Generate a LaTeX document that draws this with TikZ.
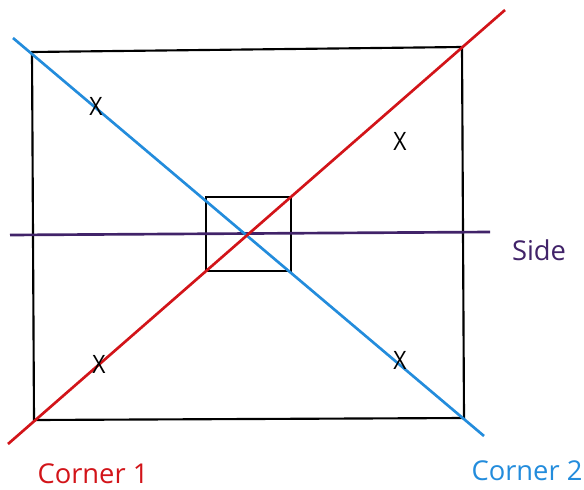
\documentclass[tikz,border=0pt]{standalone}
\usepackage{fontspec}
\setmainfont{Open Sans}
\usepackage{xcolor}
\definecolor{cornerred}{RGB}{210,20,25}
\definecolor{cornerblue}{RGB}{35,140,220}
\definecolor{sidepurple}{RGB}{65,35,105}

\begin{document}
\begin{tikzpicture}[
  x=0.75pt, y=-0.75pt,
  frame/.style={draw=black, line width=1.6pt, line join=miter},
  cut/.style={line width=2pt},
  lbl/.style={font=\fontsize{20.5}{24}\selectfont, inner sep=1pt},
  xmark/.style={font=\fontsize{19}{22}\selectfont\addfontfeature{FakeStretch=0.9}, inner sep=0pt}
]
  \useasboundingbox (0,0) rectangle (584,489);

  % outer frame and centre square
  \coordinate (tl) at (32,52);
  \coordinate (tr) at (462,47);
  \coordinate (br) at (464,418);
  \coordinate (bl) at (34,420);
  \draw[frame] (tl) -- (tr) -- (br) -- (bl) -- cycle;
  \coordinate (ctl) at (206,197);
  \coordinate (ctr) at (291,197);
  \coordinate (cbr) at (291,271);
  \coordinate (cbl) at (206,271);
  \draw[frame] (ctl) -- (ctr) -- (cbr) -- (cbl) -- cycle;

  % cut lines
  \coordinate (sideW) at (10,235);
  \coordinate (sideE) at (490,232);
  \coordinate (oneS) at (8,444);
  \coordinate (oneN) at (505,10);
  \coordinate (twoN) at (13,38);
  \coordinate (twoS) at (484,436);
  \draw[cut, sidepurple] (sideW) -- (sideE);
  \draw[cut, cornerblue] (twoN) -- (twoS);
  \draw[cut, cornerred] (oneS) -- (oneN);

  % marks
  \node[xmark] (x1) at (96,106) {X};
  \node[xmark] (x2) at (400,141) {X};
  \node[xmark] (x3) at (99,364) {X};
  \node[xmark] (x4) at (400,360) {X};

  % labels
  \node[lbl, text=sidepurple] (side) at (539,250) {Side};
  \node[lbl, text=cornerred] (c1) at (93,474) {Corner 1};
  \node[lbl, text=cornerblue] (c2) at (527,471) {Corner 2};
\end{tikzpicture}
\end{document}
